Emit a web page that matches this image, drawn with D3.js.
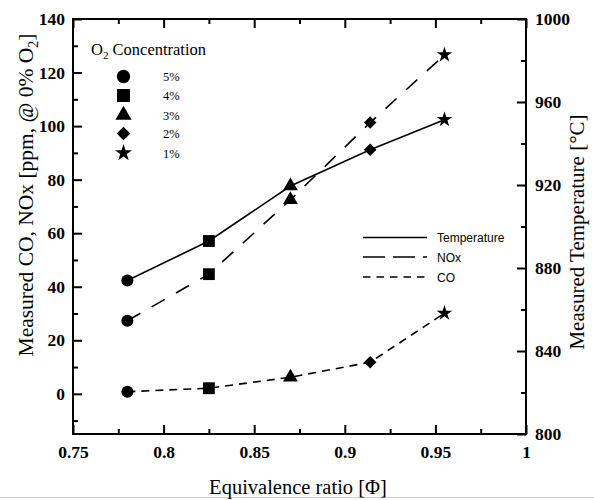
<!DOCTYPE html>
<html><head><meta charset="utf-8">
<script src="https://cdn.jsdelivr.net/npm/d3@7"></script>
<style>
body{margin:0;background:#fff;}
svg{display:block;}
</style></head>
<body>
<script>
// ---- data ----
const phi = [0.78, 0.825, 0.87, 0.914, 0.955];
const temperature = [874, 893, 919.5, 937, 951.5];
const nox = [27.3, 44.7, 72.5, 101.3, 126.6];
const co = [0.8, 2.1, 6.2, 11.8, 30.1];
const o2Labels = ["5%", "4%", "3%", "2%", "1%"];
const xTicks = [0.75, 0.8, 0.85, 0.9, 0.95, 1];
const xTickLabels = ["0.75", "0.8", "0.85", "0.9", "0.95", "1"];
const xMinor = [0.775, 0.825, 0.875, 0.925, 0.975];
const leftTicks = [0, 20, 40, 60, 80, 100, 120, 140];
const leftMinor = [-10, 10, 30, 50, 70, 90, 110, 130];
const rightTicks = [800, 840, 880, 920, 960, 1000];
const rightMinor = [820, 860, 900, 940, 980];
const lineLegend = ["Temperature", "NOx", "CO"];

const W = 594, H = 500;
const L = 73, R = 526, T = 19, B = 434;
const serif = "'Liberation Serif','Times New Roman',serif";
const sans = "'Liberation Sans',Arial,sans-serif";

const svg = d3.select("body").append("svg").attr("width", W).attr("height", H);

const x = d3.scaleLinear().domain([0.75, 1]).range([L, R]);
const yL = d3.scaleLinear().domain([-15, 140]).range([B, T]);
const yR = d3.scaleLinear().domain([800, 1000]).range([B, T]);

// faint bottom border of the image
svg.append("line").attr("x1", 0).attr("x2", W).attr("y1", 497.5).attr("y2", 497.5)
  .attr("stroke", "#d0d0d0").attr("stroke-width", 1);

function styleAxis(g) {
  g.attr("font-family", null).attr("font-size", null);
  g.select(".domain").remove();
  g.selectAll("line").attr("stroke", "#000").attr("stroke-width", 2);
  g.selectAll("text")
    .style("font-family", serif).style("font-size", "17.5px")
    .style("font-weight", "bold").attr("fill", "#000");
}

// bottom axis
svg.append("g").attr("transform", `translate(0,${B})`)
  .call(d3.axisBottom(x).tickValues(xTicks).tickFormat((d, i) => xTickLabels[i])
    .tickSizeInner(-9).tickSizeOuter(0).tickPadding(12))
  .call(styleAxis);
svg.append("g").attr("transform", `translate(0,${B})`)
  .call(d3.axisBottom(x).tickValues(xMinor).tickFormat("").tickSizeInner(-5).tickSizeOuter(0))
  .call(styleAxis);
// top axis (ticks only)
svg.append("g").attr("transform", `translate(0,${T})`)
  .call(d3.axisTop(x).tickValues(xTicks).tickFormat("").tickSizeInner(-9).tickSizeOuter(0))
  .call(styleAxis);
svg.append("g").attr("transform", `translate(0,${T})`)
  .call(d3.axisTop(x).tickValues(xMinor).tickFormat("").tickSizeInner(-5).tickSizeOuter(0))
  .call(styleAxis);
// left axis
svg.append("g").attr("transform", `translate(${L},0)`)
  .call(d3.axisLeft(yL).tickValues(leftTicks).tickFormat(d3.format("d"))
    .tickSizeInner(-9).tickSizeOuter(0).tickPadding(8))
  .call(styleAxis);
svg.append("g").attr("transform", `translate(${L},0)`)
  .call(d3.axisLeft(yL).tickValues(leftMinor).tickFormat("").tickSizeInner(-5).tickSizeOuter(0))
  .call(styleAxis);
// right axis
svg.append("g").attr("transform", `translate(${R},0)`)
  .call(d3.axisRight(yR).tickValues(rightTicks).tickFormat(d3.format("d"))
    .tickSizeInner(-9).tickSizeOuter(0).tickPadding(9))
  .call(styleAxis);
svg.append("g").attr("transform", `translate(${R},0)`)
  .call(d3.axisRight(yR).tickValues(rightMinor).tickFormat("").tickSizeInner(-5).tickSizeOuter(0))
  .call(styleAxis);

// frame
svg.append("rect").attr("x", L).attr("y", T).attr("width", R - L).attr("height", B - T)
  .attr("fill", "none").attr("stroke", "#000").attr("stroke-width", 2);

// axis titles
svg.append("text").attr("x", 298).attr("y", 494).attr("text-anchor", "middle")
  .attr("font-family", serif).attr("font-size", 20.5).text("Equivalence ratio [Φ]");

const lt = svg.append("text").attr("transform", "translate(33,195) rotate(-90)")
  .attr("text-anchor", "middle").attr("font-family", serif).attr("font-size", 21.5);
lt.append("tspan").text("Measured CO, NOx [ppm, @ 0% O");
lt.append("tspan").attr("font-size", 14).attr("dy", 5).text("2");
lt.append("tspan").attr("dy", -5).text("]");

svg.append("text").attr("transform", "translate(584,232) rotate(-90)")
  .attr("text-anchor", "middle").attr("font-family", serif).attr("font-size", 21)
  .text("Measured Temperature [°C]");

// markers
const shapes = [d3.symbolCircle, d3.symbolSquare, d3.symbolTriangle, d3.symbolSquare, d3.symbolStar];
const sizes = [115, 140, 95, 78, 75];
const rots = [0, 0, 0, 45, 0];
function marker(g, i, cx, cy, scale) {
  g.append("path")
    .attr("d", d3.symbol().type(shapes[i]).size(sizes[i] * (scale || 1))())
    .attr("transform", `translate(${cx},${cy}) rotate(${rots[i]})`)
    .attr("fill", "#000");
}

const series = [
  {vals: temperature, y: yR, dash: null},
  {vals: nox, y: yL, dash: "15,13"},
  {vals: co, y: yL, dash: "8,6"}
];
const plot = svg.append("g");
series.forEach(s => {
  const line = d3.line().x((d, i) => x(phi[i])).y(d => s.y(d));
  plot.append("path").attr("d", line(s.vals)).attr("fill", "none")
    .attr("stroke", "#000").attr("stroke-width", 1.6)
    .attr("stroke-dasharray", s.dash);
  s.vals.forEach((v, i) => marker(plot, i, x(phi[i]), s.y(v)));
});

// O2 legend
const lg = svg.append("g");
const t = lg.append("text").attr("x", 91).attr("y", 55).attr("font-family", serif).attr("font-size", 16.5);
t.append("tspan").text("O");
t.append("tspan").attr("font-size", 11).attr("dy", 4).text("2");
t.append("tspan").attr("dy", -4).text(" Concentration");
const legY = [76.5, 95.5, 115, 133.5, 153];
o2Labels.forEach((lab, i) => {
  marker(lg, i, 123.5, legY[i], 1.2);
  lg.append("text").attr("x", 163).attr("y", legY[i] + 4.5).attr("font-family", serif)
    .attr("font-size", 12.5).text(lab);
});

// line legend
const ll = svg.append("g");
const llY = [237.5, 257, 277];
const llDash = [null, "22,8", "7.5,6"];
lineLegend.forEach((lab, i) => {
  ll.append("line").attr("x1", 363).attr("x2", 427).attr("y1", llY[i]).attr("y2", llY[i])
    .attr("stroke", "#000").attr("stroke-width", 1.6).attr("stroke-dasharray", llDash[i]);
  ll.append("text").attr("x", 437).attr("y", llY[i] + 4.5).attr("font-family", sans)
    .attr("font-size", 12).text(lab);
});
</script>
</body></html>
